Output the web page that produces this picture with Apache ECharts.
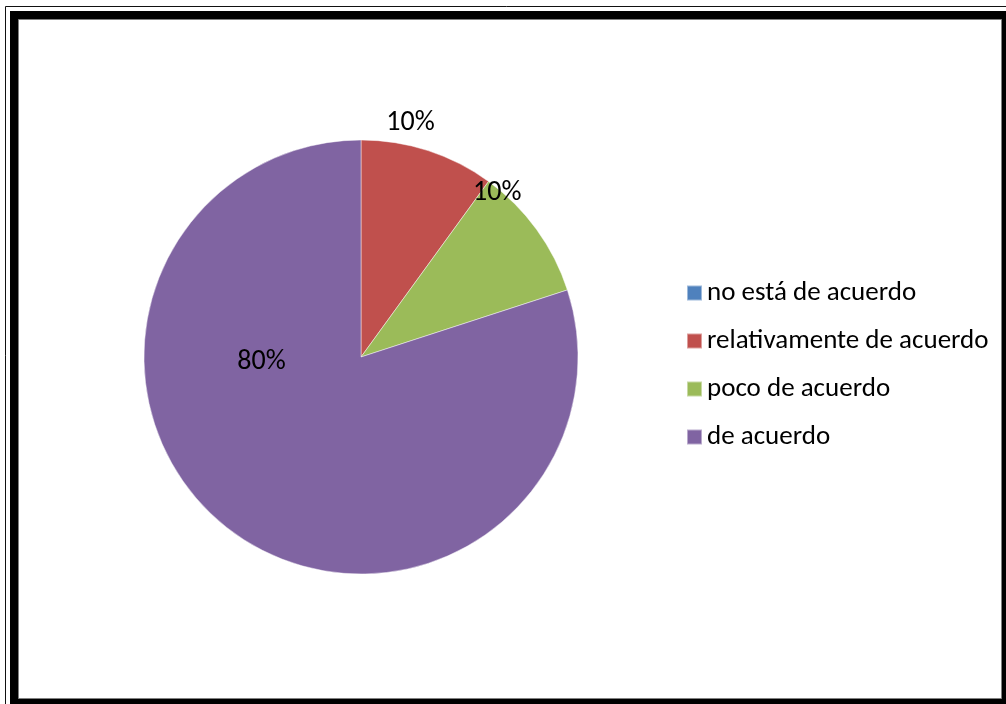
<!DOCTYPE html>
<html>
<head>
<meta charset="utf-8">
<title>Nivel de acuerdo</title>
<script src="https://cdn.jsdelivr.net/npm/echarts@6/dist/echarts.min.js"></script>
<style>
  html, body { margin: 0; padding: 0; background: #fff; }
  #chart { width: 1006px; height: 704px; }
</style>
</head>
<body>
<div id="chart"></div>
<script>
// Response categories and their shares (%)
const categories = ['no está de acuerdo', 'relativamente de acuerdo', 'poco de acuerdo', 'de acuerdo'];
const shares = [0, 10, 10, 80];
const sliceColors = ['#4F81BD', '#C0504D', '#9BBB59', '#8064A2'];

// Where each percentage label sits relative to its slice's inside anchor
const labelOffsets = [[0, 0], [15, -128], [46, -98], [-34, -85]];

const FONT = 'Carlito, Lato, sans-serif';

const chart = echarts.init(document.getElementById('chart'), null, { renderer: 'canvas' });

const pieData = categories.map((name, i) => ({
  name,
  value: shares[i],
  itemStyle: { color: sliceColors[i] },
  label: {
    show: shares[i] > 0,
    offset: labelOffsets[i]
  }
}));

chart.setOption({
  animation: false,
  backgroundColor: '#fff',
  graphic: [
    // thin outer rule
    { type: 'rect', silent: true, z: 0,
      shape: { x: 5.5, y: 6.5, width: 1100, height: 800 },
      style: { fill: null, stroke: '#111', lineWidth: 1 } },
    // heavy black frame
    { type: 'rect', silent: true, z: 0,
      shape: { x: 10, y: 11, width: 1100, height: 800 },
      style: { fill: '#000' } },
    // white chart area with grey edge
    { type: 'rect', silent: true, z: 1,
      shape: { x: 18.5, y: 19.5, width: 983, height: 679 },
      style: { fill: '#fff', stroke: '#808080', lineWidth: 1 } }
  ],
  legend: {
    orient: 'vertical',
    left: 681,
    top: 273,
    itemWidth: 15,
    itemHeight: 15,
    itemGap: 18,
    icon: 'rect',
    data: categories,
    textStyle: { fontFamily: FONT, fontSize: 27, color: '#000', lineHeight: 30 }
  },
  series: [{
    type: 'pie',
    center: [361, 357],
    radius: 217,
    startAngle: 90,
    clockwise: true,
    avoidLabelOverlap: false,
    stillShowZeroSum: true,
    z: 5,
    itemStyle: { borderColor: 'rgba(255,255,255,0.45)', borderWidth: 1 },
    emphasis: { disabled: true },
    label: {
      position: 'inside',
      color: '#000',
      fontFamily: FONT,
      fontSize: 28,
      formatter: p => Math.round(p.percent) + '%'
    },
    labelLine: { show: false },
    data: pieData
  }]
});
</script>
</body>
</html>
